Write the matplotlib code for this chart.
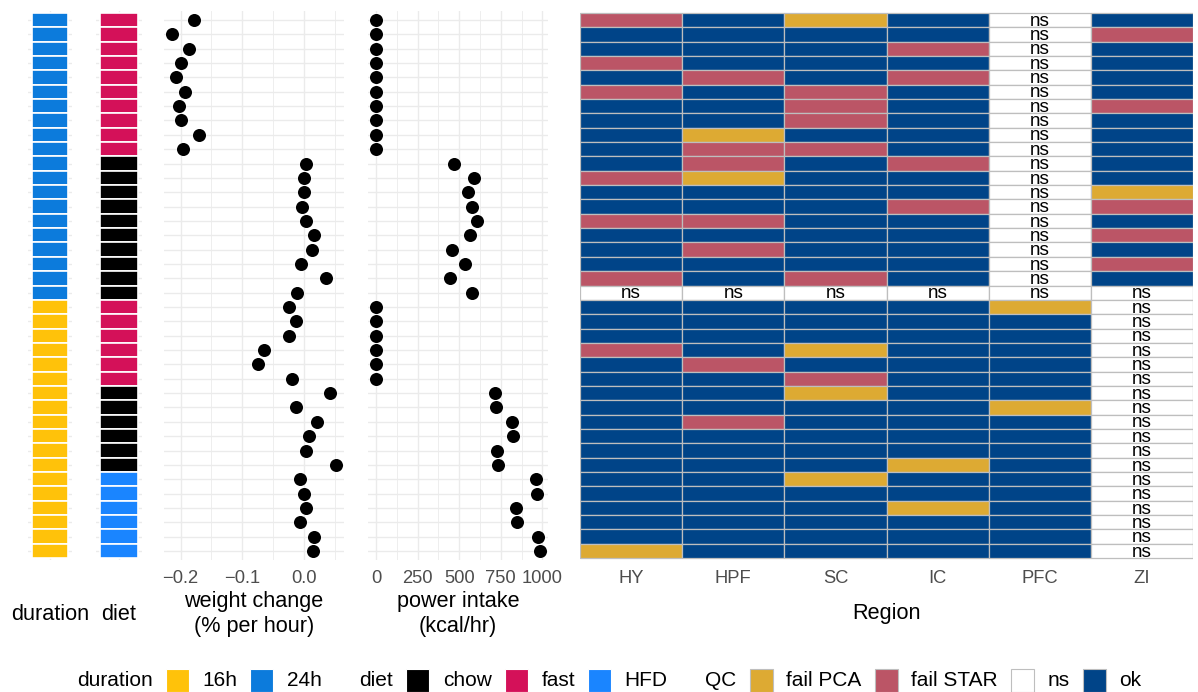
import numpy as np
import matplotlib
matplotlib.use('Agg')
import matplotlib.pyplot as plt
from matplotlib.patches import Rectangle
from matplotlib.offsetbox import HPacker, TextArea, DrawingArea, AnchoredOffsetbox

plt.rcParams['font.family'] = ['Liberation Sans', 'DejaVu Sans']

# sample annotations, one entry per sample (top to bottom)
duration = ['24h'] * 20 + ['16h'] * 18
diet = ['fast'] * 10 + ['chow'] * 10 + ['fast'] * 6 + ['chow'] * 6 + ['HFD'] * 6

weight = [-0.178, -0.214, -0.187, -0.200, -0.208, -0.193, -0.203, -0.200, -0.171, -0.196,
          0.004, 0.000, 0.000, -0.003, 0.004, 0.016, 0.013, -0.004, 0.035, -0.011,
          -0.025, -0.013, -0.025, -0.065, -0.075, -0.020,
          0.043, -0.013, 0.022, 0.008, 0.004, 0.052,
          -0.007, 0.000, 0.004, -0.007, 0.016, 0.015]

power = [0, 0, 0, 0, 0, 0, 0, 0, 0, 0,
         470, 590, 550, 578, 604, 564, 458, 536, 444, 578,
         0, 0, 0, 0, 0, 0,
         718, 722, 817, 823, 726, 734,
         959, 969, 839, 847, 975, 985]

# QC status per region: P = fail PCA, S = fail STAR, N = ns, O = ok
regions = ['HY', 'HPF', 'SC', 'IC', 'PFC', 'ZI']
qc_HY = "SOOSOSOOOOOSOOSOOOSN" + "OOOSOOOOOOOOOOOOOP"
qc_HPF = "OOOOSOOOPSSPOOSOSOON" + "OOOOSOOOSOOOOOOOOO"
qc_SC = "POOOOSSSOSOOOOOOOOSN" + "OOOPOSPOOOOOPOOOOO"
qc_IC = "OOSOSOOOOOSOOSOOOOON" + "OOOOOOOOOOOPOOPOOO"
qc_PFC = "NNNNNNNNNNNNNNNNNNNN" + "POOOOOOPOOOOOOOOOO"
qc_ZI = "OSOOOOSOOOOOPSOSOSON" + "NNNNNNNNNNNNNNNNNN"
qc_codes = {'P': 'fail PCA', 'S': 'fail STAR', 'N': 'ns', 'O': 'ok'}

duration_colors = {'16h': '#FFC20A', '24h': '#0C7BDC'}
diet_colors = {'chow': '#000000', 'fast': '#D41159', 'HFD': '#1A85FF'}
qc_colors = {'fail PCA': '#DDAA33', 'fail STAR': '#BB5566', 'ns': '#FFFFFF', 'ok': '#004488'}

W, H = 1198, 692
fig = plt.figure(figsize=(W / 100, H / 100), dpi=100)

TOP, BOT = 11.4, 559.6
rows = np.arange(len(duration))
GRID = '#EBEBEB'
TICK_GREY = '#4D4D4D'
TICK_FS = 13.2
TITLE_FS = 15.6
LABEL_Y = (BOT - 614) / (BOT - TOP)


def panel(left, right):
    ax = fig.add_axes([left / W, 1 - BOT / H, (right - left) / W, (BOT - TOP) / H])
    ax.set_ylim(len(rows) - 1 + 0.6, -0.6)
    for s in ax.spines.values():
        s.set_visible(False)
    ax.set_yticks(rows)
    ax.set_yticklabels([])
    ax.tick_params(length=0, pad=7.5, labelsize=TICK_FS, labelcolor=TICK_GREY)
    ax.set_axisbelow(True)
    return ax


def xtitle(ax, text):
    ax.set_xlabel(text, fontsize=TITLE_FS, linespacing=1.3)
    ax.xaxis.set_label_coords(0.5, LABEL_Y)
    ax.xaxis.label.set_va('center')


def tile_column(ax, values, colors, title):
    ax.set_xlim(-0.6, 0.6)
    ax.set_xticks([0])
    ax.set_xticklabels([])
    ax.grid(True, color=GRID, lw=1.0)
    ax.barh(rows, 1.0, left=-0.5, height=1.0,
            color=[colors[v] for v in values], edgecolor='white', lw=1.2)
    xtitle(ax, title)


# annotation tile columns
ax_dur = panel(28, 72)
tile_column(ax_dur, duration, duration_colors, 'duration')
ax_diet = panel(96, 142)
tile_column(ax_diet, diet, diet_colors, 'diet')

# weight change dots
ax_w = panel(164, 344)
ax_w.set_xlim(-0.227, 0.065)
ax_w.set_xticks([-0.2, -0.1, 0.0])
ax_w.set_xticklabels(['\u22120.2', '\u22120.1', '0.0'])
ax_w.set_xticks([-0.15, -0.05, 0.05], minor=True)
ax_w.tick_params(which='minor', length=0)
ax_w.grid(True, which='major', color=GRID, lw=1.0)
ax_w.grid(True, which='minor', axis='x', color=GRID, lw=0.6)
ax_w.scatter(weight, rows, s=88, color='black', zorder=3, linewidths=0)
xtitle(ax_w, 'weight change\n(% per hour)')

# power intake dots
ax_p = panel(368, 548)
ax_p.set_xlim(-49, 1034)
ax_p.set_xticks([0, 250, 500, 750, 1000])
ax_p.set_xticklabels(['0', '250', '500', '750', '1000'])
ax_p.set_xticks([125, 375, 625, 875], minor=True)
ax_p.tick_params(which='minor', length=0)
ax_p.grid(True, which='major', color=GRID, lw=1.0)
ax_p.grid(True, which='minor', axis='x', color=GRID, lw=0.6)
ax_p.scatter(power, rows, s=88, color='black', zorder=3, linewidths=0)
xtitle(ax_p, 'power intake\n(kcal/hr)')

# QC heatmap
ax_h = panel(580, 1193)
ax_h.set_xlim(-0.5, len(regions) - 0.5)
ax_h.set_xticks(range(len(regions)))
ax_h.set_xticklabels(regions)
qc_columns = [qc_HY, qc_HPF, qc_SC, qc_IC, qc_PFC, qc_ZI]
for j, col in enumerate(qc_columns):
    for i, code in enumerate(col):
        status = qc_codes[code]
        ax_h.add_patch(Rectangle((j - 0.5, i - 0.5), 1, 1, facecolor=qc_colors[status],
                                 edgecolor='#BEBEBE', lw=0.9))
        if status == 'ns':
            ax_h.text(j, i + 0.08, 'ns', ha='center', va='center', fontsize=13.6, color='black')
xtitle(ax_h, 'Region')


# bottom legend
LEG_FS = 15.0
KEY = 16.6


def key_box(color, edge):
    da = DrawingArea(KEY, KEY, 0, 0)
    da.add_artist(Rectangle((0, 0), KEY, KEY, facecolor=color, edgecolor=edge, lw=0.8))
    return da


def legend_group(title, colors, edge):
    items = [TextArea(title, textprops=dict(fontsize=LEG_FS))]
    for label, color in colors.items():
        items.append(HPacker(children=[key_box(color, edge),
                                       TextArea(label, textprops=dict(fontsize=LEG_FS))],
                             sep=9.6, align='center', pad=0))
    return HPacker(children=items, sep=9.6, align='center', pad=0)


legend = HPacker(children=[legend_group('duration', duration_colors, 'white'),
                           legend_group('diet', diet_colors, 'white'),
                           legend_group('QC', qc_colors, '#BEBEBE')],
                 sep=27, align='center', pad=0)
anchored = AnchoredOffsetbox(loc='center', child=legend, frameon=False, pad=0, borderpad=0,
                             bbox_to_anchor=(609 / W, (H - 680.5) / H),
                             bbox_transform=fig.transFigure)
fig.add_artist(anchored)

fig.savefig('out.png', dpi=100)
